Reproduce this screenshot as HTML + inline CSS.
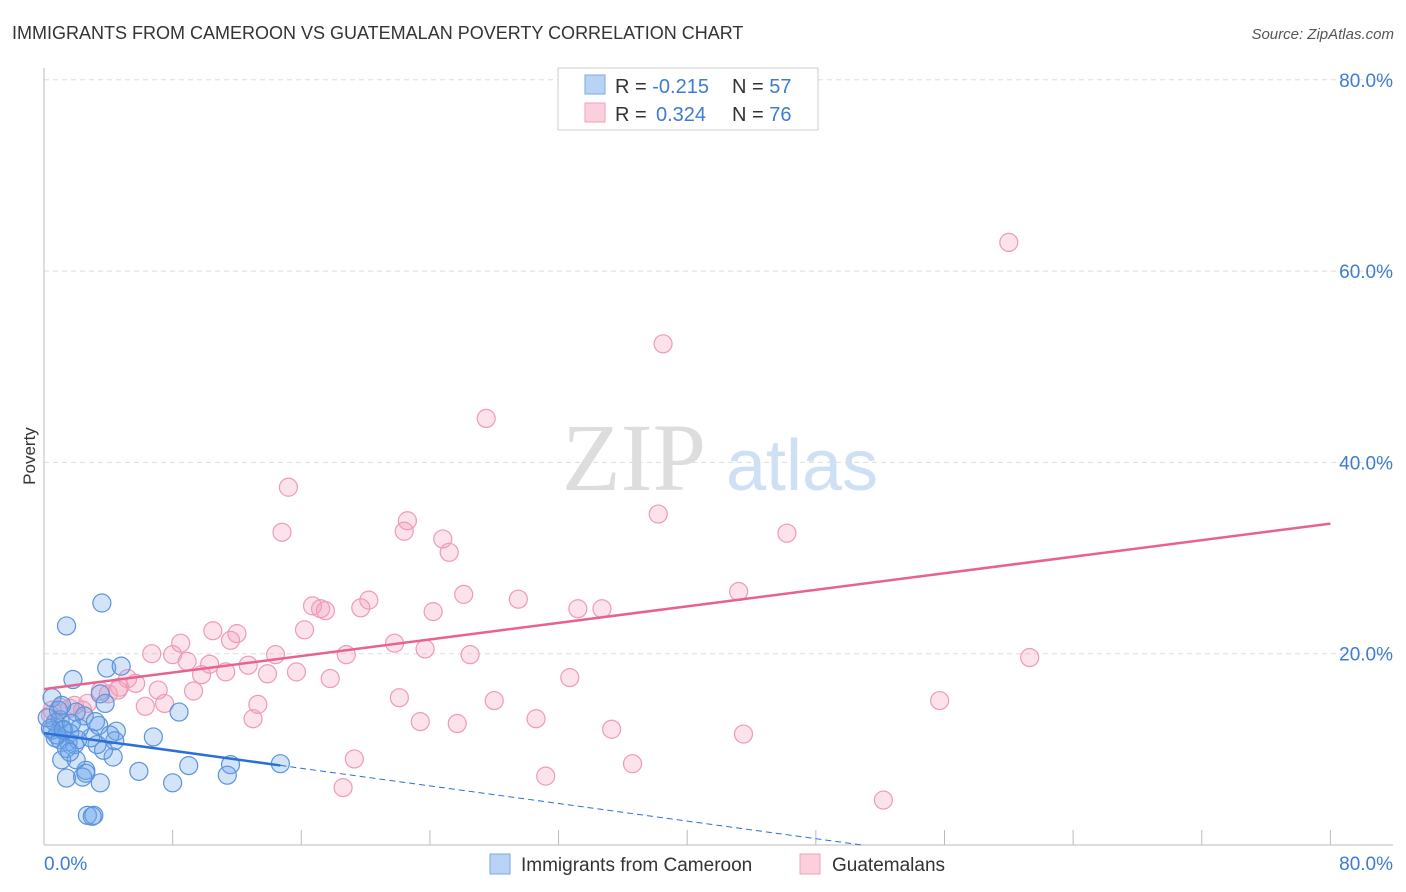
<!DOCTYPE html>
<html><head><meta charset="utf-8"><style>
body{margin:0;background:#fff;font-family:"Liberation Sans",sans-serif}
svg{display:block}
</style></head><body>
<svg id="chart" width="1406" height="892" xmlns="http://www.w3.org/2000/svg">
<text x="12" y="39" font-size="18" fill="#333">IMMIGRANTS FROM CAMEROON VS GUATEMALAN POVERTY CORRELATION CHART</text>
<text x="1394" y="39" font-size="15" fill="#555" font-style="italic" text-anchor="end">Source: ZipAtlas.com</text>
<text x="35" y="456" font-size="17" fill="#333" text-anchor="middle" transform="rotate(-90 35 456)">Poverty</text>
<g>
<text x="634" y="490" font-size="96" font-family="Liberation Serif,serif" fill="#ddd" text-anchor="middle">ZIP</text>
<text x="802" y="490" font-size="72" fill="#cfe0f5" text-anchor="middle">atlas</text>
</g>
<g id="grid"></g>
<g id="axes"></g>
<g id="marks"></g>
<g id="legend">
<rect x="558" y="68" width="260" height="62" fill="#fff" stroke="#ccc"/>
<rect x="585" y="75" width="20" height="19" fill="#b9d3f5" stroke="#7aa8e6"/>
<rect x="585" y="103" width="20" height="19" fill="#fbd0dd" stroke="#f0a2bb"/>
<text x="615" y="93" font-size="20" fill="#333">R = <tspan fill="#3d7bd4">-0.215</tspan><tspan x="732">N = </tspan><tspan fill="#3d7bd4">57</tspan></text>
<text x="615" y="121" font-size="20" fill="#333">R = <tspan x="656" fill="#3d7bd4">0.324</tspan><tspan x="732">N = </tspan><tspan fill="#3d7bd4">76</tspan></text>
</g>
<g>
<rect x="490" y="854" width="20" height="20" fill="#b9d3f5" stroke="#7aa8e6"/>
<text x="521" y="871" font-size="19" fill="#333">Immigrants from Cameroon</text>
<rect x="800" y="854" width="20" height="20" fill="#fbd0dd" stroke="#f0a2bb"/>
<text x="832" y="871" font-size="19" fill="#333">Guatemalans</text>
</g>
</svg>
<script>
const yTicks=[20,40,60,80];
const yTickLabels=["20.0%","40.0%","60.0%","80.0%"];
const xTicks=[0,8,16,24,32,40,48,56,64,72,80];
const blueX=[3.6,1.4,1.8,3.9,4.8,3.5,3.8,0.5,8.4,6.8,14.7,11.6,11.4,9.0,8.0,5.9,3.5,2.6,1.4,2.0,1.1,4.3,3.7,3.3,4.5,4.4,2.9,3.4,2.5,2.0,2.2,1.0,0.7,0.5,0.7,1.0,1.5,1.6,1.2,1.9,2.1,1.4,2.4,2.6,2.7,3.1,3.0,1.6,0.8,0.4,0.2,1.2,1.7,0.9,1.1,3.2,4.1];
const blueY=[25.3,22.9,17.3,18.5,18.7,15.8,14.8,15.4,13.9,11.3,8.5,8.4,7.3,8.3,6.5,7.7,6.5,7.8,7.0,8.9,8.9,9.2,9.9,10.5,11.9,10.9,11.2,12.5,13.5,13.9,12.2,13.1,12.8,12.0,11.2,11.0,10.8,11.7,12.1,10.5,11.0,10.1,7.1,7.5,3.1,3.1,3.0,9.7,11.5,12.2,13.3,12.0,12.7,14.1,14.6,12.9,11.5];
const pinkX=[60.0,38.5,27.5,15.2,38.2,22.6,14.8,22.4,24.8,25.2,46.2,43.2,26.1,29.5,20.2,16.7,17.2,17.5,19.7,24.2,33.2,34.7,10.5,12.0,11.6,8.5,16.2,6.7,8.0,14.4,21.8,23.7,26.5,18.8,61.3,8.9,10.3,12.7,11.3,9.8,15.7,13.9,17.8,32.7,5.2,5.7,7.1,9.3,4.6,3.5,4.0,6.3,7.5,13.3,22.1,28.0,55.7,2.7,1.9,1.6,1.0,0.5,0.4,13.0,23.4,25.7,30.6,35.3,43.5,19.3,31.2,36.6,18.6,52.2,4.7,2.4];
const pinkY=[63.0,52.4,44.6,37.4,34.6,33.9,32.7,32.8,32.0,30.6,32.6,26.5,26.2,25.7,25.6,25.0,24.7,24.5,24.8,24.4,24.7,24.7,22.4,22.1,21.4,21.1,22.5,20.0,19.9,19.9,21.1,20.5,19.9,19.9,19.6,19.2,18.9,18.8,18.1,17.8,18.1,17.9,17.4,17.5,17.4,16.9,16.2,16.1,16.2,16.1,15.8,14.5,14.8,14.7,15.4,15.1,15.1,14.8,14.6,14.3,14.4,14.1,13.6,13.2,12.9,12.7,13.2,12.1,11.6,9.0,7.2,8.5,6.0,4.7,16.5,14.1];
const pinkTrend=[16.3,33.6];
const blueTrend=[11.7,-0.23];
const NS="http://www.w3.org/2000/svg";
const X=v=>44+v*16.08, Y=v=>845-v*9.565;
function mk(parent,tag,attrs){const e=document.createElementNS(NS,tag);for(const k in attrs)e.setAttribute(k,attrs[k]);document.getElementById(parent).appendChild(e);return e;}
yTicks.forEach((t,i)=>{
 const g=mk('grid','line',{x1:44,x2:1393,y1:Y(t),y2:Y(t),stroke:'#ddd','stroke-dasharray':'5,4'});
 
 
 const l=mk('axes','text',{x:1393,y:Y(t)+7,'font-size':19,fill:'#3d7bd4','text-anchor':'end'});
 l.textContent=yTickLabels[i];
 
 
});
const ax=mk('axes','line',{x1:44,x2:44,y1:68,y2:845,stroke:'#bbb'});


const bx=mk('axes','line',{x1:44,x2:1393,y1:845,y2:845,stroke:'#bbb'});


xTicks.forEach(t=>{
 const k=mk('axes','line',{x1:X(t),x2:X(t),y1:830,y2:845,stroke:'#bbb'});
 
 
});
const xl0=mk('axes','text',{x:44,y:870,'font-size':19,fill:'#3d7bd4'});xl0.textContent='0.0%';


const xl1=mk('axes','text',{x:1393,y:870,'font-size':19,fill:'#3d7bd4','text-anchor':'end'});xl1.textContent='80.0%';


pinkX.forEach((v,i)=>{
 const c=mk('marks','circle',{cx:X(v),cy:Y(pinkY[i]),r:9,fill:'rgba(243,160,188,0.3)',stroke:'#ee9ab6','stroke-width':1.2});
 
 
});
blueX.forEach((v,i)=>{
 const c=mk('marks','circle',{cx:X(v),cy:Y(blueY[i]),r:9,fill:'rgba(110,165,235,0.3)',stroke:'#5b93db','stroke-width':1.2});
 
 
});
const pt=mk('marks','line',{x1:X(0),y1:Y(pinkTrend[0]),x2:X(80),y2:Y(pinkTrend[1]),stroke:'#e8628e','stroke-width':2.5});


const bEnd=Math.max(...blueX), bZero=-blueTrend[0]/blueTrend[1];
const bt=mk('marks','line',{x1:X(0),y1:Y(blueTrend[0]),x2:X(bEnd),y2:Y(blueTrend[0]+blueTrend[1]*bEnd),stroke:'#2a6fd6','stroke-width':2.5});


const bd=mk('marks','line',{x1:X(bEnd),y1:Y(blueTrend[0]+blueTrend[1]*bEnd),x2:X(bZero),y2:Y(0),stroke:'#2a6fd6','stroke-width':1,'stroke-dasharray':'6,4'});


</script>
</body></html>
